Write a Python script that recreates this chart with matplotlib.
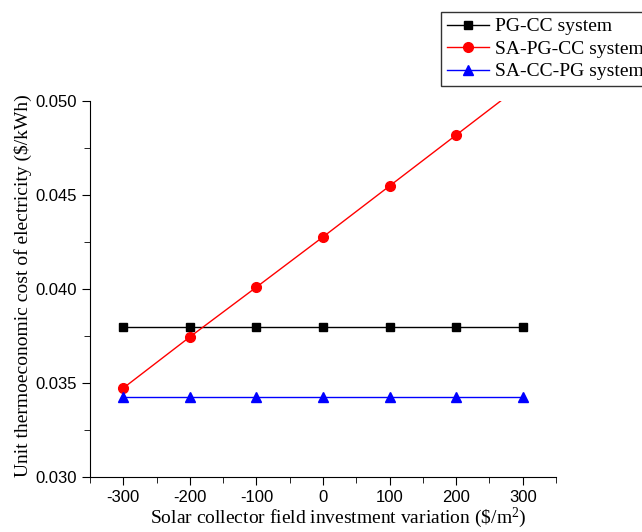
import matplotlib
matplotlib.use('Agg')
import matplotlib.pyplot as plt
from matplotlib.ticker import MultipleLocator, FormatStrFormatter

# Data
variation = [-300, -200, -100, 0, 100, 200, 300]
pg_cc = [0.0380, 0.0380, 0.0380, 0.0380, 0.0380, 0.0380, 0.0380]
sa_pg_cc = [0.03473, 0.03745, 0.04010, 0.04277, 0.04548, 0.04819, 0.05090]
sa_cc_pg = [0.03426, 0.03426, 0.03426, 0.03426, 0.03426, 0.03426, 0.03426]

plt.rcParams['axes.unicode_minus'] = False
plt.rcParams['mathtext.fontset'] = 'custom'
plt.rcParams['mathtext.rm'] = 'Liberation Serif'
plt.rcParams['mathtext.it'] = 'Liberation Serif:italic'

fig = plt.figure(figsize=(6.42, 5.32), dpi=100)
ax = fig.add_axes([90 / 642, 1 - 477 / 532, 466 / 642, 376 / 532])

ax.plot(variation, pg_cc, color='black', marker='s', markersize=6,
        linewidth=1, label='PG-CC system')
ax.plot(variation, sa_pg_cc, color='red', marker='o', markersize=7,
        linewidth=1, label='SA-PG-CC system')
ax.plot(variation, sa_cc_pg, color='blue', marker='^', markersize=7,
        linewidth=1, label='SA-CC-PG system')

ax.set_xlim(-350, 350)
ax.set_ylim(0.030, 0.050)
ax.xaxis.set_major_locator(MultipleLocator(100))
ax.xaxis.set_minor_locator(MultipleLocator(50))
ax.xaxis.set_major_formatter(FormatStrFormatter('%d'))
ax.yaxis.set_major_locator(MultipleLocator(0.005))
ax.yaxis.set_minor_locator(MultipleLocator(0.0025))
ax.yaxis.set_major_formatter(FormatStrFormatter('%.3f'))

for side in ['top', 'right']:
    ax.spines[side].set_visible(False)
ax.tick_params(which='both', direction='out', labelsize=12)
ax.tick_params(which='major', length=6)
ax.tick_params(which='minor', length=4)
for lbl in ax.get_xticklabels() + ax.get_yticklabels():
    lbl.set_fontfamily('Liberation Sans')

ax.set_xlabel(r'Solar collector field investment variation (\$/m$^{2}$)',
              fontsize=14, fontfamily='Liberation Serif')
ax.set_ylabel('Unit thermoeconomic cost of electricity ($/kWh)',
              fontsize=14, fontfamily='Liberation Serif')
ax.xaxis.set_label_coords(0.532, -0.075)
ax.yaxis.set_label_coords(-0.124, 0.51)

# legend box runs past the right edge, as in the original figure
handles, labels = ax.get_legend_handles_labels()
leg = fig.legend(handles, labels, loc='upper left',
                 bbox_to_anchor=(441 / 642, 1 - 12 / 532),
                 frameon=True, fancybox=False, edgecolor='black',
                 borderaxespad=0, handlelength=2.15, handletextpad=0.35,
                 labelspacing=0.25, borderpad=0.3,
                 prop={'family': 'Liberation Serif', 'size': 14})
leg.get_frame().set_linewidth(1)

fig.savefig('out.png', dpi=100)
